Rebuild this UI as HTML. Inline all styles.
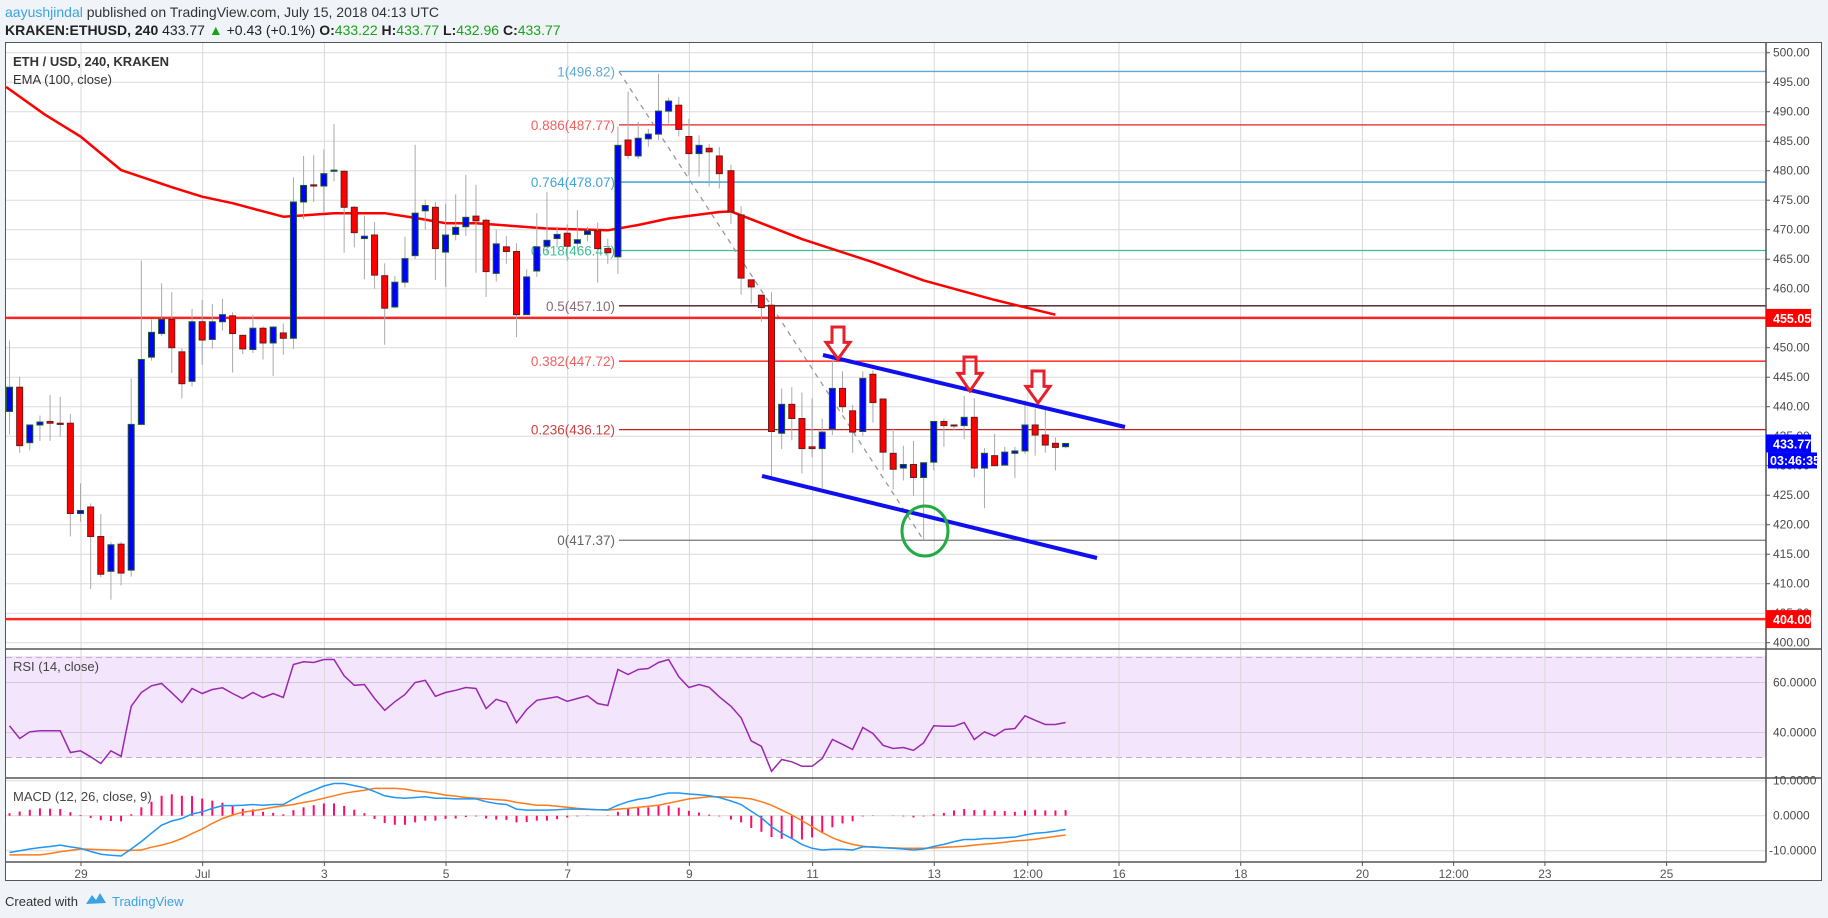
<!DOCTYPE html>
<html><head><meta charset="utf-8"><style>
html,body{margin:0;padding:0;background:#f0f3f7;}
svg{display:block;font-family:"Liberation Sans",sans-serif;}
</style></head><body>
<svg id="c" width="1828" height="918" viewBox="0 0 1828 918">
<rect x="0" y="0" width="1828" height="918" fill="#f0f3f7"/>
<text x="5" y="17" font-size="14"><tspan fill="#3aa3e3">aayushjindal</tspan><tspan fill="#333"> published on TradingView.com, July 15, 2018 04:13 UTC</tspan></text>
<text x="5" y="35" font-size="14" fill="#222"><tspan font-weight="bold">KRAKEN:ETHUSD, 240</tspan><tspan> 433.77 </tspan><tspan fill="#1aa31a">▲</tspan><tspan> +0.43 (+0.1%) </tspan><tspan font-weight="bold">O:</tspan><tspan fill="#1aa31a">433.22 </tspan><tspan font-weight="bold">H:</tspan><tspan fill="#1aa31a">433.77 </tspan><tspan font-weight="bold">L:</tspan><tspan fill="#1aa31a">432.96 </tspan><tspan font-weight="bold">C:</tspan><tspan fill="#1aa31a">433.77</tspan></text>
<rect x="5.5" y="42.5" width="1816" height="838" fill="#fff" stroke="#555"/>
<rect x="6" y="656" width="1760" height="101.5" fill="#f3e6fc"/>
<g id="grid"></g>
<g id="fib"></g>
<g id="price"></g>
<g id="ind"></g>
<g id="anno"></g>
<g id="axes"></g>
<text x="13" y="66" font-size="13" font-weight="bold" fill="#333">ETH / USD, 240, KRAKEN</text>
<text x="13" y="84" font-size="13" fill="#333">EMA (100, close)</text>
<text x="13" y="671" font-size="13" fill="#444">RSI (14, close)</text>
<text x="13" y="801" font-size="13" fill="#444">MACD (12, 26, close, 9)</text>
<text x="5" y="906" font-size="13" fill="#333">Created with</text>
<g><path d="M86 904 l6 -9 l4 5 l4 -7 l6 10 z" fill="#3aa3e3"/><text x="112" y="906" font-size="13" fill="#3aa3e3">TradingView</text></g>
</svg>
<script>
const NS='http://www.w3.org/2000/svg';
function mk(p,t,a){const e=document.createElementNS(NS,t);for(const k in a)e.setAttribute(k,a[k]);p.appendChild(e);return e;}
// ---- data ----
const opens=[439.2,443.3,433.9,436.9,437.5,437.2,437.2,421.9,423,418,412.1,416.7,412.3,437,448.4,452.4,454.8,449.3,444.3,454.4,451.4,454.4,455.4,452.1,449.7,453.3,450.8,452.5,451.6,474.7,477.6,477.4,479.9,479.9,473.8,468.5,469.1,462.2,456.9,461.1,465.6,473.2,473.8,466.2,469.2,470.5,472.3,471.6,462.6,467.1,466.3,455.6,463,467.2,468.5,469.4,467.7,469.2,469.8,466.8,465.4,485.2,482.5,485.4,486.2,490.1,491.1,485.8,482.9,483.8,482.5,480,472.5,461.5,458.9,457.2,435.5,440.4,438,433.2,432.9,436.2,443.1,439.3,435.8,445.5,441.3,432.1,429.6,430.2,428,430.6,437.5,436.9,436.8,438.2,429.6,431.7,430.1,432.1,432.5,436.9,435.2,433.8,433.22];
const closes=[443.3,433.4,436.9,437.4,437.2,437.0,421.9,422.4,418,411.6,416.6,411.8,437,448,452.6,454.8,450,443.9,454.4,451.3,454.4,455.6,452.4,449.8,453.3,450.8,453.5,451.6,474.7,477.5,477.4,479.5,480.1,473.8,469.5,468.9,462.3,456.7,461.1,465.1,472.8,474.1,466.8,469.1,470.4,472.1,471.5,462.9,467.6,466.3,455.6,462,467.1,468.2,469.2,467.2,468.3,469.8,466.8,466.1,484.3,482.6,485.5,486.2,490.1,491.8,487,482.9,484.3,483.2,479.5,473,461.8,460.3,456.8,435.8,440.4,438,432.9,432.9,435.7,443.1,440,435.7,444.8,440.7,432.3,429.4,430.2,428,430.5,437.5,436.8,436.8,438.2,429.6,432.1,430,432.3,432.5,436.9,435.2,433.5,433.1,433.77];
const highs=[451.2,445.1,437,438.5,442,441.7,438.8,427,423.6,421.8,417.1,417.1,444.8,464.8,454.8,460.9,459.4,449.9,456.6,458.1,457.4,458.3,456,452.1,455.6,453.6,453.6,454.1,478.9,482.5,482.6,483.6,487.9,480.1,474,472.4,471.3,464.3,462.2,468.8,484.4,475.1,474.7,474.4,476,479.3,477.6,471.9,470,468.9,467.7,463.3,472.8,476.4,470.5,470.9,473.3,470.5,471.2,468.5,487.5,493.4,488.3,487.1,496.4,492.4,492.5,488.8,486,484.5,484,481,474,461.5,458.9,459.4,443.1,443.3,442.4,441.4,438,448,446,440.3,446,446.2,441.4,436.2,433.4,434.2,430.5,437.5,438,437,441.8,441.4,433,435.4,433.2,433.2,441.1,439.7,439.5,434.8,433.77];
const lows=[435.3,432.2,432.6,434.2,434.2,434.9,418,420.5,409.1,411.1,407.3,409.7,411.2,437,447.8,452,445.7,441.4,443.4,447.1,449.8,452.9,445.8,448.9,449.1,448,445.2,448.8,449.8,471.8,474.7,472.8,478.2,466.1,467,461.6,460,450.5,456.7,460.2,465,470,461.5,460.3,468.2,468.9,462.7,458.6,461.2,464.2,451.8,455.6,462,466,467,464.7,466.5,468,461,464.2,462.5,482,482,484.1,485.2,488,485.8,479.2,479,477.3,477,471,459,457.5,454.4,428.2,432.8,434.3,428.7,431.4,426.2,435.2,439,432.2,435,437.3,429.2,426,427.5,424.9,417.4,429.2,433.2,436,434.5,428,422.8,430,430,427.9,432,431.7,432.2,429.2,432.96];
const emaIdx=[-0.5,3.5,7,11,16,19,22,27,32,37,40,43,46,53,59,62,65,70,71,78,85,90,97,103];
const emaVals=[494.2,489.5,485.8,480.1,477.2,475.6,474.5,472.2,472.8,472.8,472.0,471.1,471.1,470.2,469.9,470.8,471.9,473.0,473.1,468.4,464.5,461.4,458.1,455.6];
const rsiVals=[42.7,37.6,40.3,40.7,40.7,40.7,32,32.7,30.3,27.6,32.7,30.5,50.5,56,58.7,59.6,55.9,52,57.6,55.6,57.2,57.9,55.6,53.6,56,54,55.6,54,67.2,68.3,68,69.2,69.2,62.7,58.9,59.2,53.6,48.9,52.3,55.2,60,60.9,54.5,56,56.9,58,57.6,49.6,53.3,52,43.9,49.2,52.9,53.6,54.3,52.5,53.6,54.7,51.6,50.8,65.2,63.2,65.2,65.6,68,69.2,62.3,58,59.2,58.1,54.3,50.5,45.9,36.7,34.5,24.5,29.2,28.3,26.5,26.5,29.6,37.2,35.3,33.2,42,39.6,34.9,33.6,34,32.9,35.9,42.7,42.5,42.5,44,37.2,40.3,38.6,41.2,41.6,46.7,44.9,43.2,43.2,44];
const macdVals=[-10.5,-10,-9.5,-9.1,-8.8,-8.4,-8.9,-9.3,-10.2,-11,-11.3,-11.5,-9.5,-7.4,-5,-2.7,-1.5,-0.8,0.5,1.1,2.1,2.9,2.9,3,3.2,3,3.2,3.2,4.8,6.2,7.3,8.5,9.2,9.2,8.6,8,6.9,5.7,5.2,5,5.2,5.4,5,5,4.8,4.8,4.8,4,3.5,3.2,1.9,1.6,1.6,1.6,1.7,1.9,1.9,1.8,1.7,1.7,3,4,4.7,5.1,5.9,6.5,6.5,6.2,6,5.7,5.2,4.2,3.2,1.3,-0.6,-3.1,-5,-6.5,-8.2,-9.3,-9.8,-9.6,-9.6,-9.8,-8.9,-8.9,-9.1,-9.3,-9.5,-9.8,-9.5,-8.8,-8.2,-7.4,-6.8,-6.8,-6.5,-6.5,-6.3,-6.1,-5.5,-5,-4.8,-4.4,-3.9];
const signalVals=[-11.2,-11.2,-11.2,-11.2,-10.8,-10.3,-9.9,-9.5,-9.6,-9.7,-9.8,-9.9,-9.9,-9.8,-9,-8.4,-7.6,-6.5,-5.1,-3.8,-2.2,-0.8,0.2,1,1.4,1.9,2.4,2.8,3.2,3.8,4.3,5,5.7,6.4,6.9,7.3,7.8,7.8,7.8,7.6,7.1,6.8,6.4,5.9,5.6,5.2,5,4.8,4.6,4.4,3.8,3.4,3,3,2.7,2.4,2.1,1.9,1.7,1.6,1.9,2.1,2.4,2.7,3,3.6,4.2,4.8,5.1,5.4,5.4,5.3,5.1,4.8,4,3,1.6,0.2,-1.4,-3.1,-4.8,-6.3,-7.4,-8.2,-8.7,-9,-9.1,-9.2,-9.3,-9.3,-9.3,-9.2,-9,-8.9,-8.7,-8.4,-8.1,-7.9,-7.6,-7.2,-7,-6.7,-6.3,-5.9,-5.5];
const priceTicks=[400,405,410,415,420,425,430,435,440,445,450,455,460,465,470,475,480,485,490,495,500];
const rsiTicks=[40,60];
const macdTicks=[-10,0,10];
const timeLabels=['29','Jul','3','5','7','9','11','13','12:00','16','18','20','12:00','23','25'];
const timeSlots=[7,19,31,43,55,67,79,91,100,109,121,133,142,151,163];
const fibLevels=[1,0.886,0.764,0.618,0.5,0.382,0.236,0];
const fibPrices=[496.82,487.77,478.07,466.47,457.10,447.72,436.12,417.37];
const fibColors=['#5fa8d8','#e02020','#2f9bd6','#3cbf93','#4a1a2a','#ff0000','#c02020','#777777'];
const fibLabelColors=['#5fa8d8','#f06060','#3fa3dc','#3cbf93','#8a6a78','#f06060','#d04040','#666'];
const hLevels=[455.05,404.00];
// ---- scales ----
const X=i=>80.5+(i-7)*10.14+(i>70?1.5:0);
const XT=s=>s<=91?X(s):936+(s-91)*10.14; // time grid positions
const Y=p=>52.7+(500-p)*5.9;
const YR=v=>732.5-(v-40)*2.5;
const YM=v=>815.7-v*3.5;
const L=6,R=1766;
const grid=document.getElementById('grid'),fib=document.getElementById('fib'),price=document.getElementById('price'),ind=document.getElementById('ind'),anno=document.getElementById('anno'),axes=document.getElementById('axes');
// grid
priceTicks.forEach(p=>{const e=mk(grid,'line',{x1:L,x2:R,y1:Y(p),y2:Y(p),stroke:'#dcdcdc','stroke-width':1});

});
rsiTicks.forEach(v=>{const e=mk(grid,'line',{x1:L,x2:R,y1:YR(v),y2:YR(v),stroke:'#d6c8e0','stroke-width':1});

});
[70,30].forEach(v=>{const e=mk(grid,'line',{x1:L,x2:R,y1:YR(v),y2:YR(v),stroke:'#c0b0c8','stroke-width':1,'stroke-dasharray':'6,4'});

});
macdTicks.forEach(v=>{const e=mk(grid,'line',{x1:L,x2:R,y1:YM(v),y2:YM(v),stroke:'#dcdcdc','stroke-width':1});

});
timeSlots.forEach((s,k)=>{const x=XT(s)+0.5;const e=mk(grid,'line',{x1:x,x2:x,y1:43,y2:862,stroke:'#d8d8d8','stroke-width':1});


const t=mk(axes,'text',{x:x,y:878,'font-size':12,fill:'#555','text-anchor':'middle'});t.textContent=timeLabels[k];


const tk=mk(axes,'line',{x1:x,x2:x,y1:862,y2:866,stroke:'#555'});

});
// pane separators and axes
[[L,1822,649,649],[L,1822,778,778],[L,R,862,862],[R,R,43,862]].forEach(a=>{const e=mk(axes,'line',{x1:a[0],x2:a[1],y1:a[2],y2:a[3],stroke:'#555','stroke-width':1.5});

});
priceTicks.forEach(p=>{const t=mk(axes,'text',{x:1773,y:Y(p)+4,'font-size':12,fill:'#4a4a4a'});t.textContent=p.toFixed(2);


const tk=mk(axes,'line',{x1:R,x2:R+4,y1:Y(p),y2:Y(p),stroke:'#555'});

});
rsiTicks.forEach(v=>{const t=mk(axes,'text',{x:1773,y:YR(v)+4,'font-size':12,fill:'#4a4a4a'});t.textContent=v.toFixed(4);

});
macdTicks.forEach(v=>{const t=mk(axes,'text',{x:v<0?1769:1773,y:YM(v)+4,'font-size':12,fill:'#4a4a4a'});t.textContent=v.toFixed(4);

});
// fib
const fx0=619;
fibPrices.forEach((p,k)=>{const e=mk(fib,'line',{x1:fx0,x2:R,y1:Y(p),y2:Y(p),stroke:fibColors[k],'stroke-width':1.3});


const t=mk(fib,'text',{x:615,y:Y(p)+5,'font-size':13.5,fill:fibLabelColors[k],'text-anchor':'end'});t.textContent=fibLevels[k]+'('+p.toFixed(2)+')';

});
{const e=mk(fib,'line',{x1:fx0,y1:Y(fibPrices[0]),x2:X(90),y2:Y(fibPrices[7]),stroke:'#999','stroke-width':1.3,'stroke-dasharray':'5,5'});

}
hLevels.forEach(p=>{const e=mk(fib,'line',{x1:L,x2:R,y1:Y(p),y2:Y(p),stroke:'#ff0000','stroke-width':2.5,'stroke-opacity':0.85});

});
// EMA
{let d='';emaIdx.forEach((s,k)=>{d+=(k?'L':'M')+Math.max(L,X(s)).toFixed(1)+' '+Y(emaVals[k]).toFixed(1)+' ';});
const e=mk(price,'path',{d:d,fill:'none',stroke:'#ff0000','stroke-width':2.5,'stroke-linejoin':'round'});

}
// candles
opens.forEach((o,i)=>{const c=closes[i],x=X(i),up=c>=o;
const w=mk(price,'line',{x1:x,x2:x,y1:Y(highs[i]),y2:Y(lows[i]),stroke:'#aaa','stroke-width':1});


const t=Y(Math.max(o,c)),b=Y(Math.min(o,c));
const r=mk(price,'rect',{x:x-3,y:t,width:6,height:Math.max(1,b-t),fill:up?'#0000ff':'#ff0000',stroke:up?'#1f5a2a':'#6a1a1a','stroke-width':1});

});
// RSI
{let d='';rsiVals.forEach((v,i)=>{d+=(i?'L':'M')+X(i).toFixed(1)+' '+YR(v).toFixed(1)+' ';});
const e=mk(ind,'path',{d:d,fill:'none',stroke:'#9c27b0','stroke-width':1.5});

}
// MACD histogram
macdVals.forEach((m,i)=>{const h=m-signalVals[i];
const e=mk(ind,'line',{x1:X(i),x2:X(i),y1:YM(0),y2:YM(h),stroke:'#ff0a6c','stroke-width':2});

});
{let d='';signalVals.forEach((v,i)=>{d+=(i?'L':'M')+X(i).toFixed(1)+' '+YM(v).toFixed(1)+' ';});
const e=mk(ind,'path',{d:d,fill:'none',stroke:'#ff7a1a','stroke-width':1.5});

}
{let d='';macdVals.forEach((v,i)=>{d+=(i?'L':'M')+X(i).toFixed(1)+' '+YM(v).toFixed(1)+' ';});
const e=mk(ind,'path',{d:d,fill:'none',stroke:'#2196f3','stroke-width':1.5});

}
// annotations
{const e=mk(anno,'line',{x1:823,y1:355,x2:1125,y2:427,stroke:'#1010ee','stroke-width':4});

}
{const e=mk(anno,'line',{x1:762,y1:476,x2:1097,y2:558,stroke:'#1010ee','stroke-width':4});

}
[[838,327,359],[970,357,391],[1038,371,403]].forEach(a=>{const [cx,t,b]=a,hw=12,sw=6,hy=t+(b-t)*0.48;
const e=mk(anno,'path',{d:`M${cx-sw} ${t} L${cx+sw} ${t} L${cx+sw} ${hy} L${cx+hw} ${hy} L${cx} ${b} L${cx-hw} ${hy} L${cx-sw} ${hy} Z`,fill:'none',stroke:'#e8202a','stroke-width':3});

});
{const e=mk(anno,'ellipse',{cx:925,cy:531,rx:23,ry:25,fill:'none',stroke:'#22aa44','stroke-width':3});

}
// price boxes
function box(p,txt,col,nm,w){const y=Y(p);const r=mk(axes,'rect',{x:1766,y:y-9,width:w,height:18,fill:col});


const t=mk(axes,'text',{x:1773,y:y+5,'font-size':12.5,'font-weight':'bold',fill:'#fff'});t.textContent=txt;

}
box(455.05,'455.05','#ff0000','resistance-price',45);
box(404.00,'404.00','#ff0000','support-price',45);
box(433.77,'433.77','#0000ff','last-price',45);
{const r=mk(axes,'rect',{x:1768,y:Y(433.77)+9,width:49,height:16,fill:'#0000ff'});


const t=mk(axes,'text',{x:1770,y:Y(433.77)+21.5,'font-size':12.5,'font-weight':'bold',fill:'#fff'});t.textContent='03:46:35';

}
</script>
</body></html>
